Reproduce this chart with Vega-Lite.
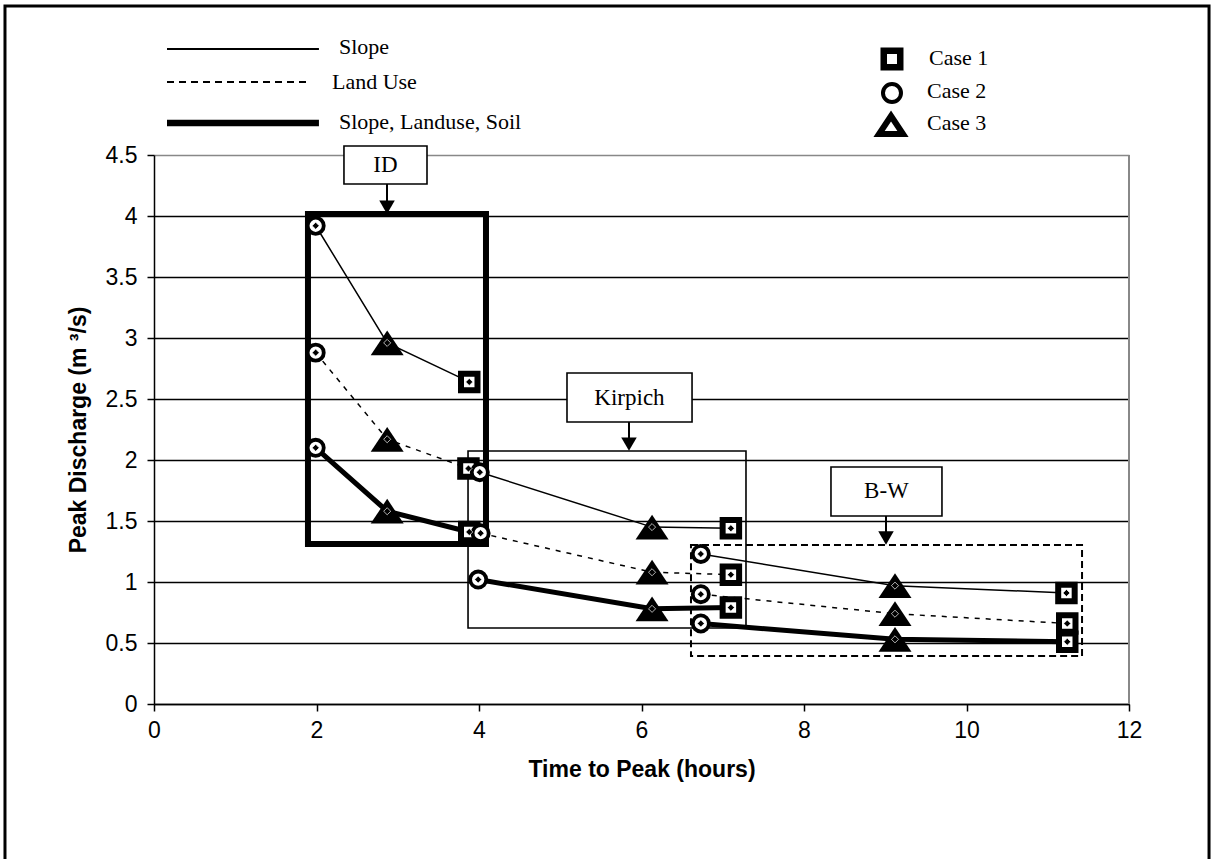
{
  "$schema": "https://vega.github.io/schema/vega-lite/v6.json",
  "width": 975,
  "height": 549,
  "autosize": {"type": "none"},
  "padding": {"left": 154, "top": 155, "right": 82, "bottom": 155},
  "background": "white",
  "config": {"view": {"stroke": null}, "font": "Liberation Sans"},
  "datasets": {
    "peaks": [
      {"method": "ID", "factor": "Slope", "case": "Case 2", "time": 1.99, "q": 3.92},
      {"method": "ID", "factor": "Slope", "case": "Case 3", "time": 2.87, "q": 2.96},
      {"method": "ID", "factor": "Slope", "case": "Case 1", "time": 3.88, "q": 2.64},
      {"method": "ID", "factor": "Land Use", "case": "Case 2", "time": 1.99, "q": 2.88},
      {"method": "ID", "factor": "Land Use", "case": "Case 3", "time": 2.87, "q": 2.17},
      {"method": "ID", "factor": "Land Use", "case": "Case 1", "time": 3.87, "q": 1.93},
      {"method": "ID", "factor": "Slope, Landuse, Soil", "case": "Case 2", "time": 1.99, "q": 2.10},
      {"method": "ID", "factor": "Slope, Landuse, Soil", "case": "Case 3", "time": 2.87, "q": 1.58},
      {"method": "ID", "factor": "Slope, Landuse, Soil", "case": "Case 1", "time": 3.88, "q": 1.41},
      {"method": "Kirpich", "factor": "Slope", "case": "Case 2", "time": 4.01, "q": 1.90},
      {"method": "Kirpich", "factor": "Slope", "case": "Case 3", "time": 6.13, "q": 1.45},
      {"method": "Kirpich", "factor": "Slope", "case": "Case 1", "time": 7.10, "q": 1.44},
      {"method": "Kirpich", "factor": "Land Use", "case": "Case 2", "time": 4.02, "q": 1.40},
      {"method": "Kirpich", "factor": "Land Use", "case": "Case 3", "time": 6.13, "q": 1.08},
      {"method": "Kirpich", "factor": "Land Use", "case": "Case 1", "time": 7.10, "q": 1.06},
      {"method": "Kirpich", "factor": "Slope, Landuse, Soil", "case": "Case 2", "time": 3.99, "q": 1.02},
      {"method": "Kirpich", "factor": "Slope, Landuse, Soil", "case": "Case 3", "time": 6.13, "q": 0.78},
      {"method": "Kirpich", "factor": "Slope, Landuse, Soil", "case": "Case 1", "time": 7.10, "q": 0.79},
      {"method": "B-W", "factor": "Slope", "case": "Case 2", "time": 6.73, "q": 1.23},
      {"method": "B-W", "factor": "Slope", "case": "Case 3", "time": 9.12, "q": 0.97},
      {"method": "B-W", "factor": "Slope", "case": "Case 1", "time": 11.23, "q": 0.91},
      {"method": "B-W", "factor": "Land Use", "case": "Case 2", "time": 6.73, "q": 0.90},
      {"method": "B-W", "factor": "Land Use", "case": "Case 3", "time": 9.12, "q": 0.74},
      {"method": "B-W", "factor": "Land Use", "case": "Case 1", "time": 11.24, "q": 0.66},
      {"method": "B-W", "factor": "Slope, Landuse, Soil", "case": "Case 2", "time": 6.73, "q": 0.66},
      {"method": "B-W", "factor": "Slope, Landuse, Soil", "case": "Case 3", "time": 9.12, "q": 0.53},
      {"method": "B-W", "factor": "Slope, Landuse, Soil", "case": "Case 1", "time": 11.24, "q": 0.51}
    ]
  },
  "layer": [
    {
      "data": {"name": "peaks"},
      "transform": [{"filter": "datum.factor === 'Slope'"}],
      "mark": {"type": "line", "color": "black", "strokeWidth": 1.5, "strokeCap": "butt"},
      "encoding": {
        "x": {"field": "time", "type": "quantitative",
          "scale": {"domain": [0, 12], "nice": false, "zero": false},
          "axis": {"values": [0, 2, 4, 6, 8, 10, 12], "format": "~g", "grid": false, "domainColor": "black", "domainWidth": 1.5,
            "tickColor": "black", "tickWidth": 1.5, "tickSize": 7, "labelFont": "Liberation Sans", "labelFontSize": 23,
            "labelColor": "black", "labelPadding": 8, "labelFlush": false, "labelOverlap": false,
            "title": "Time to Peak (hours)", "titleFont": "Liberation Sans", "titleFontSize": 23, "titleFontWeight": "bold",
            "titleColor": "black", "titlePadding": 16}},
        "y": {"field": "q", "type": "quantitative",
          "scale": {"domain": [0, 4.5], "nice": false},
          "axis": {"values": [0, 0.5, 1, 1.5, 2, 2.5, 3, 3.5, 4, 4.5], "format": "~g", "grid": true,
            "gridColor": {"condition": {"test": "datum.value > 4.4", "value": "#888888"}, "value": "black"},
            "gridWidth": 1.6, "domainColor": "black", "domainWidth": 1.5,
            "tickColor": "black", "tickWidth": 1.5, "tickSize": 7, "labelFont": "Liberation Sans", "labelFontSize": 23,
            "labelColor": "black", "labelPadding": 10, "labelFlush": false, "labelOverlap": false,
            "title": "Peak Discharge (m ³/s)", "titleFont": "Liberation Sans", "titleFontSize": 23, "titleFontWeight": "bold",
            "titleColor": "black", "titlePadding": 15}},
        "detail": {"field": "method", "type": "nominal"}
      }
    },
    {
      "data": {"name": "peaks"},
      "transform": [{"filter": "datum.factor === 'Land Use'"}],
      "mark": {"type": "line", "color": "black", "strokeWidth": 1.5, "strokeDash": [5, 6], "strokeCap": "butt"},
      "encoding": {
        "x": {"field": "time", "type": "quantitative"},
        "y": {"field": "q", "type": "quantitative"},
        "detail": {"field": "method", "type": "nominal"}
      }
    },
    {
      "data": {"name": "peaks"},
      "transform": [{"filter": "datum.factor === 'Slope, Landuse, Soil'"}],
      "mark": {"type": "line", "color": "black", "strokeWidth": 5, "strokeCap": "butt"},
      "encoding": {
        "x": {"field": "time", "type": "quantitative"},
        "y": {"field": "q", "type": "quantitative"},
        "detail": {"field": "method", "type": "nominal"}
      }
    },
    {
      "data": {"values": [{}]},
      "mark": {"type": "rule", "color": "#888888", "strokeWidth": 2},
      "encoding": {"x": {"datum": 12}, "y": {"datum": 0}, "y2": {"datum": 4.5}}
    },
    {
      "data": {"values": [{}]},
      "mark": {"type": "rect", "fillOpacity": 0, "stroke": "black", "strokeWidth": 6},
      "encoding": {"x": {"datum": 1.895}, "x2": {"datum": 4.086}, "y": {"datum": 4.016}, "y2": {"datum": 1.311}}
    },
    {
      "data": {"values": [{}]},
      "mark": {"type": "rect", "fillOpacity": 0, "stroke": "black", "strokeWidth": 1.6},
      "encoding": {"x": {"datum": 3.865}, "x2": {"datum": 7.286}, "y": {"datum": 2.074}, "y2": {"datum": 0.623}}
    },
    {
      "data": {"values": [{}]},
      "mark": {"type": "rect", "fillOpacity": 0, "stroke": "black", "strokeWidth": 2, "strokeDash": [7, 4]},
      "encoding": {"x": {"datum": 6.609}, "x2": {"datum": 11.422}, "y": {"datum": 1.303}, "y2": {"datum": 0.393}}
    },
    {
      "data": {"name": "peaks"},
      "transform": [{"filter": "datum.case === 'Case 1'"}],
      "mark": {"type": "point", "shape": "square", "filled": true, "fill": "white", "stroke": "black", "strokeWidth": 6, "size": 272, "opacity": 1},
      "encoding": {"x": {"field": "time", "type": "quantitative"}, "y": {"field": "q", "type": "quantitative"}}
    },
    {
      "data": {"name": "peaks"},
      "transform": [{"filter": "datum.case === 'Case 2'"}],
      "mark": {"type": "point", "shape": "circle", "filled": true, "fill": "white", "stroke": "black", "strokeWidth": 3.8, "size": 260, "opacity": 1},
      "encoding": {"x": {"field": "time", "type": "quantitative"}, "y": {"field": "q", "type": "quantitative"}}
    },
    {
      "data": {"name": "peaks"},
      "transform": [{"filter": "datum.case === 'Case 3'"}],
      "mark": {"type": "point", "shape": "M0,-0.75L-1,0.75L1,0.75Z", "filled": true, "fill": "black", "strokeWidth": 0, "size": 1089, "opacity": 1},
      "encoding": {"x": {"field": "time", "type": "quantitative"}, "y": {"field": "q", "type": "quantitative"}}
    },
    {
      "data": {"name": "peaks"},
      "mark": {"type": "point", "shape": "diamond", "filled": true, "fill": "black", "stroke": "white", "strokeWidth": 0.7, "size": 50, "opacity": 1},
      "encoding": {"x": {"field": "time", "type": "quantitative"}, "y": {"field": "q", "type": "quantitative"}}
    },
    {
      "data": {"values": [{}]},
      "mark": {"type": "rect", "fill": "white", "stroke": "black", "strokeWidth": 1.6},
      "encoding": {"x": {"datum": 2.338}, "x2": {"datum": 3.36}, "y": {"datum": 4.574}, "y2": {"datum": 4.262}}
    },
    {
      "data": {"values": [{}]},
      "mark": {"type": "rect", "fill": "white", "stroke": "black", "strokeWidth": 1.6},
      "encoding": {"x": {"datum": 5.083}, "x2": {"datum": 6.622}, "y": {"datum": 2.713}, "y2": {"datum": 2.311}}
    },
    {
      "data": {"values": [{}]},
      "mark": {"type": "rect", "fill": "white", "stroke": "black", "strokeWidth": 1.6},
      "encoding": {"x": {"datum": 8.332}, "x2": {"datum": 9.698}, "y": {"datum": 1.943}, "y2": {"datum": 1.541}}
    },
    {
      "data": {"values": [{}]},
      "mark": {"type": "rule", "color": "black", "strokeWidth": 2},
      "encoding": {"x": {"datum": 2.868}, "y": {"datum": 4.262}, "y2": {"datum": 4.12}}
    },
    {
      "data": {"values": [{}]},
      "mark": {"type": "rule", "color": "black", "strokeWidth": 2},
      "encoding": {"x": {"datum": 5.846}, "y": {"datum": 2.311}, "y2": {"datum": 2.17}}
    },
    {
      "data": {"values": [{}]},
      "mark": {"type": "rule", "color": "black", "strokeWidth": 2},
      "encoding": {"x": {"datum": 9.009}, "y": {"datum": 1.541}, "y2": {"datum": 1.4}}
    },
    {
      "data": {"values": [{}]},
      "mark": {"type": "point", "shape": "triangle-down", "filled": true, "fill": "black", "strokeWidth": 0, "size": 240, "opacity": 1},
      "encoding": {"x": {"datum": 2.868}, "y": {"datum": 4.072}}
    },
    {
      "data": {"values": [{}]},
      "mark": {"type": "point", "shape": "triangle-down", "filled": true, "fill": "black", "strokeWidth": 0, "size": 240, "opacity": 1},
      "encoding": {"x": {"datum": 5.846}, "y": {"datum": 2.13}}
    },
    {
      "data": {"values": [{}]},
      "mark": {"type": "point", "shape": "triangle-down", "filled": true, "fill": "black", "strokeWidth": 0, "size": 240, "opacity": 1},
      "encoding": {"x": {"datum": 9.009}, "y": {"datum": 1.36}}
    },
    {
      "data": {"values": [{}]},
      "mark": {"type": "text", "text": "ID", "font": "Liberation Serif", "fontSize": 23, "align": "center", "baseline": "middle", "color": "black"},
      "encoding": {"x": {"datum": 2.849}, "y": {"datum": 4.418}}
    },
    {
      "data": {"values": [{}]},
      "mark": {"type": "text", "text": "Kirpich", "font": "Liberation Serif", "fontSize": 23, "align": "center", "baseline": "middle", "color": "black"},
      "encoding": {"x": {"datum": 5.852}, "y": {"datum": 2.512}}
    },
    {
      "data": {"values": [{}]},
      "mark": {"type": "text", "text": "B-W", "font": "Liberation Serif", "fontSize": 23, "align": "center", "baseline": "middle", "color": "black"},
      "encoding": {"x": {"datum": 9.015}, "y": {"datum": 1.742}}
    },
    {
      "data": {"values": [{}]},
      "mark": {"type": "rule", "color": "black", "strokeWidth": 2},
      "encoding": {"x": {"datum": 0.16}, "x2": {"datum": 2.03}, "y": {"datum": 5.369}}
    },
    {
      "data": {"values": [{}]},
      "mark": {"type": "rule", "color": "black", "strokeWidth": 2, "strokeDash": [7, 5]},
      "encoding": {"x": {"datum": 0.16}, "x2": {"datum": 1.93}, "y": {"datum": 5.098}}
    },
    {
      "data": {"values": [{}]},
      "mark": {"type": "rule", "color": "black", "strokeWidth": 6.5},
      "encoding": {"x": {"datum": 0.16}, "x2": {"datum": 2.03}, "y": {"datum": 4.762}}
    },
    {
      "data": {"values": [{}]},
      "mark": {"type": "text", "text": "Slope", "font": "Liberation Serif", "fontSize": 22, "align": "left", "baseline": "middle", "color": "black"},
      "encoding": {"x": {"datum": 2.277}, "y": {"datum": 5.385}}
    },
    {
      "data": {"values": [{}]},
      "mark": {"type": "text", "text": "Land Use", "font": "Liberation Serif", "fontSize": 22, "align": "left", "baseline": "middle", "color": "black"},
      "encoding": {"x": {"datum": 2.19}, "y": {"datum": 5.098}}
    },
    {
      "data": {"values": [{}]},
      "mark": {"type": "text", "text": "Slope, Landuse, Soil", "font": "Liberation Serif", "fontSize": 22, "align": "left", "baseline": "middle", "color": "black"},
      "encoding": {"x": {"datum": 2.277}, "y": {"datum": 4.77}}
    },
    {
      "data": {"values": [{}]},
      "mark": {"type": "point", "shape": "square", "filled": true, "fill": "white", "stroke": "black", "strokeWidth": 6.5, "size": 272, "opacity": 1},
      "encoding": {"x": {"datum": 9.083}, "y": {"datum": 5.287}}
    },
    {
      "data": {"values": [{}]},
      "mark": {"type": "point", "shape": "circle", "filled": true, "fill": "white", "stroke": "black", "strokeWidth": 4, "size": 324, "opacity": 1},
      "encoding": {"x": {"datum": 9.083}, "y": {"datum": 5.008}}
    },
    {
      "data": {"values": [{}]},
      "mark": {"type": "point", "shape": "M0,-0.75L-1,0.75L1,0.75Z", "filled": true, "fill": "white", "stroke": "black", "strokeWidth": 6, "size": 576, "opacity": 1},
      "encoding": {"x": {"datum": 9.071}, "y": {"datum": 4.746}}
    },
    {
      "data": {"values": [{}]},
      "mark": {"type": "text", "text": "Case 1", "font": "Liberation Serif", "fontSize": 22, "align": "left", "baseline": "middle", "color": "black"},
      "encoding": {"x": {"datum": 9.538}, "y": {"datum": 5.295}}
    },
    {
      "data": {"values": [{}]},
      "mark": {"type": "text", "text": "Case 2", "font": "Liberation Serif", "fontSize": 22, "align": "left", "baseline": "middle", "color": "black"},
      "encoding": {"x": {"datum": 9.514}, "y": {"datum": 5.025}}
    },
    {
      "data": {"values": [{}]},
      "mark": {"type": "text", "text": "Case 3", "font": "Liberation Serif", "fontSize": 22, "align": "left", "baseline": "middle", "color": "black"},
      "encoding": {"x": {"datum": 9.514}, "y": {"datum": 4.762}}
    },
    {
      "data": {"values": [{}]},
      "mark": {"type": "rect", "fillOpacity": 0, "stroke": "black", "strokeWidth": 3},
      "encoding": {"x": {"datum": -1.834}, "x2": {"datum": 12.985}, "y": {"datum": 5.721}, "y2": {"datum": -1.5}}
    }
  ]
}
